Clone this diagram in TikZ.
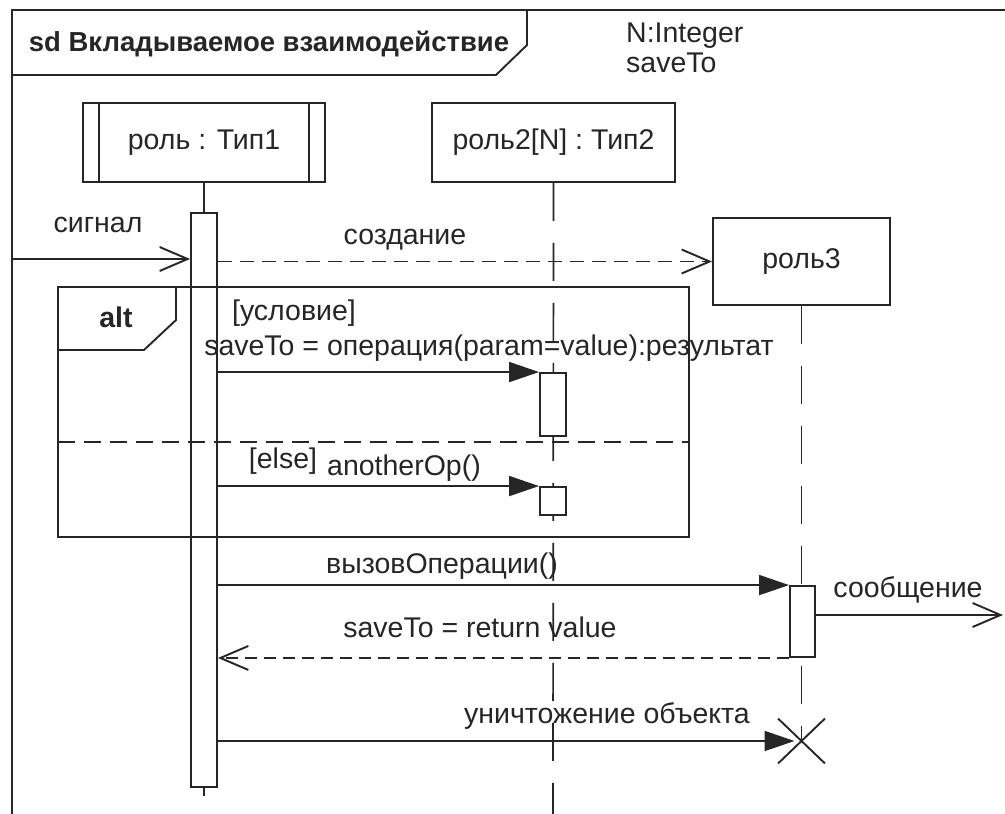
\documentclass[tikz,border=0pt]{standalone}
\usepackage{fontspec}
\setmainfont{Liberation Sans}
\usetikzlibrary{arrows.meta,shapes.misc}
\begin{document}
\begin{tikzpicture}[x=1pt,y=-1pt,
  lbl/.style={font=\fontsize{28.5}{32}\selectfont, inner sep=0pt, text=black!85},
  bold lbl/.style={lbl, font=\fontsize{28.5}{32}\selectfont\bfseries},
  title lbl/.style={lbl, font=\fontsize{27.5}{32}\selectfont\bfseries},
  line/.style={line width=1.9pt, draw=black!85},
  headbox/.style={line, draw, fill=white, lbl},
  actbox/.style={line, draw, fill=white, inner sep=0pt},
  lifeline/.style={line width=1.7pt, draw=black!85, dash pattern=on 38pt off 22pt},
  filledtip/.style={-{Triangle[length=30pt,width=20pt]}},
  opentip/.style={-{Straight Barb[length=28pt,width=24pt]}},
  msg/.style={line, filledtip},
  asyncmsg/.style={line, opentip},
  replymsg/.style={line, opentip, dash pattern=on 12pt off 7pt},
  createmsg/.style={line, opentip, dash pattern=on 14pt off 8pt},
]
\useasboundingbox (0,0) rectangle (1005,814);
\fill[white] (0,0) rectangle (1005,814);

% outer sd frame (runs off the page to the right and bottom)
\draw[line] (12,814) -- (12,10) -- (1005,10);
\draw[line] (12,75) -- (496,75) -- (527,45) -- (527,10);
\node[title lbl, anchor=base] (sdname) at (269,51) {sd Вкладываемое взаимодействие};
\node[lbl, anchor=base west] (nint) at (626,42) {N:Integer};
\node[lbl, anchor=base west] (savevar) at (626,72) {saveTo};

% lifeline heads
\node[headbox, minimum width=242pt, minimum height=79pt] (r1) at (204,142.5) {роль : Тип1};
\draw[line] ([xshift=17pt]r1.north west) -- ([xshift=17pt]r1.south west);
\draw[line] ([xshift=-17pt]r1.north east) -- ([xshift=-17pt]r1.south east);
\node[headbox, minimum width=243pt, minimum height=79pt] (r2) at (553.5,142.5) {роль2[N] : Тип2};
\node[headbox, minimum width=177pt, minimum height=87pt] (r3) at (801.5,261.5) {роль3};

% destruction mark and lifeline end points
\node[cross out, draw=black!85, line width=1.9pt, minimum width=45pt, minimum height=43pt, inner sep=0pt] (kill) at (801.5,741) {};
\coordinate (l1end) at (204,814);
\coordinate (l2end) at (553,814);

% lifelines
\draw[lifeline] (r2.south) -- (l2end);
\draw[lifeline] (r3.south) -- (kill.center);

% activation of роль : Тип1
\draw[line] (r1.south) -- (204,213);
\node[actbox, minimum width=26pt, minimum height=574pt] (a1) at (204,500) {};
\draw[lifeline, dash phase=30pt] (a1.south) -- (l1end);

% alt fragment
\draw[line] (58,287) rectangle (689,537);
\draw[line] (176,287) -- (176,320) -- (144,350) -- (58,350);
\node[bold lbl, anchor=base] (altname) at (116,327) {alt};
\draw[line, dash pattern=on 17pt off 9pt] (58,442) -- (689,442);
\node[lbl, anchor=base] (cond) at (294,320) {[условие]};
\node[lbl, anchor=base] (op1) at (489,355) {saveTo = операция(param=value):результат};
\node[lbl, anchor=base] (elseg) at (283,468) {[else]};
\node[lbl, anchor=base] (op2) at (404,475) {anotherOp()};

% other activations
\node[actbox, minimum width=26pt, minimum height=63pt] (a2) at (553,404.5) {};
\node[actbox, minimum width=26pt, minimum height=28pt] (a3) at (553,501) {};
\node[actbox, minimum width=25pt, minimum height=71pt] (a4) at (802.5,621.5) {};

% messages
\coordinate (sigstart) at (12,259);
\draw[asyncmsg] (sigstart) -- (sigstart -| a1.west);
\node[lbl, anchor=base] (sig) at (98,232) {сигнал};

\draw[createmsg] (a1.east |- r3.west) -- (r3.west);
\node[lbl, anchor=base] (crt) at (405,244) {создание};

\draw[msg] (a1.east |- a2.north) -- (a2.north west);
\draw[msg] (a1.east |- a3.north) -- (a3.north west);

\draw[msg] (a1.east |- a4.north) -- (a4.north west);
\node[lbl, anchor=base] (call) at (442,573) {вызовОперации()};

\coordinate (msgout) at (1003,615);
\draw[asyncmsg] (a4.east |- msgout) -- (msgout);
\node[lbl, anchor=base] (sent) at (908,597) {сообщение};

\draw[replymsg] (a4.south west) -- (a1.east |- a4.south);
\node[lbl, anchor=base] (ret) at (480,637) {saveTo = return value};

\draw[msg, shorten >=7pt] (a1.east |- kill) -- (kill.center);
\node[lbl, anchor=base] (del) at (607,723) {уничтожение объекта};
\end{tikzpicture}
\end{document}
